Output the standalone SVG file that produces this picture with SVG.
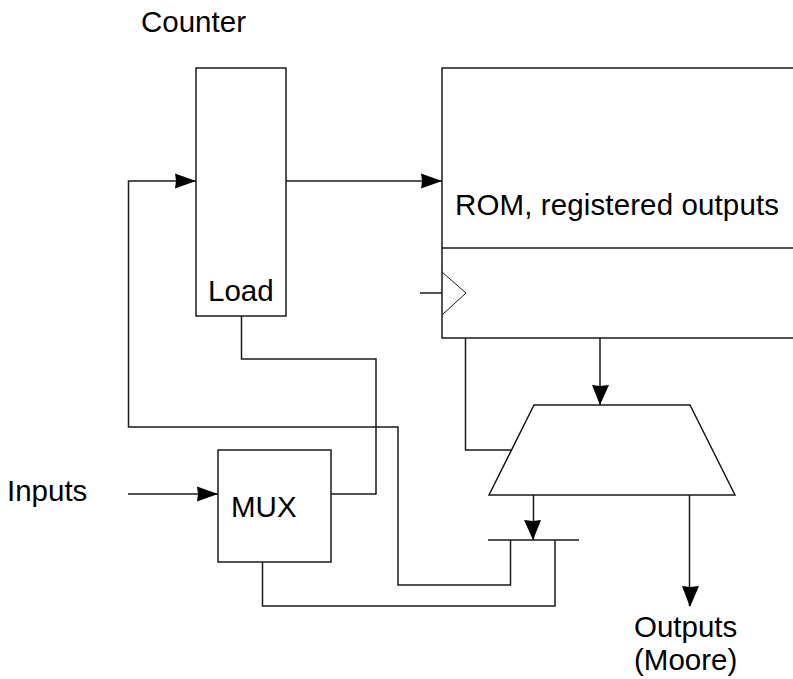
<svg xmlns="http://www.w3.org/2000/svg" width="793" height="679" viewBox="0 0 793 679">
<defs>
<style>
.s{fill:none;stroke:#1a1a1a;stroke-width:1.5}
.b{fill:#fff;stroke:#1a1a1a;stroke-width:1.5}
.t{font-family:"Liberation Sans",Arial,sans-serif;font-size:29.500px;fill:#000}
.h{fill:#000;stroke:none}
</style>
</defs>
<rect width="793" height="679" fill="#fff"/>
<g id="connectors">
<path class="s" d="M196 181H128.500V427H398V585H510.500V540"/>
<path class="s" d="M286 181H442"/>
<path class="s" d="M241.500 316V359H376V494H331"/>
<path class="s" d="M128 494H218"/>
<path class="s" d="M262.500 562V606H555V540"/>
<path class="s" d="M465.500 338V450H511"/>
<path class="s" d="M600 338V405"/>
<path class="s" d="M533.500 495V540"/>
<path class="s" d="M689.500 495V606"/>
<path class="s" d="M420 293H442"/>
<path class="s" d="M488 540H579"/>
<path class="h" d="M196 181L175 173.500L176 181L175 188.500Z"/>
<path class="h" d="M442 181L421 173.500L422 181L421 188.500Z"/>
<path class="h" d="M218 494L197 486.500L198 494L197 501.500Z"/>
<path class="h" d="M600 405L592 385L600 386L609 385Z"/>
<path class="h" d="M533 540L524 520L533 521L541 520Z"/>
<path class="h" d="M690 607L682 586L690 587L699 586Z"/>
</g>
<g id="counter"><rect class="b" x="196" y="68" width="90" height="248"/><text class="t" x="208" y="301">Load</text></g>
<text id="counter-label" class="t" x="141" y="32">Counter</text>
<g id="rom">
<path class="s" d="M793 68H442V338H793"/>
<path class="s" d="M442 248H793"/>
<path d="M442 272L466 293L442 315" fill="none" stroke="#1a1a1a" stroke-width="1"/>
<text class="t" x="455" y="215" textLength="324">ROM, registered outputs</text>
</g>
<g id="mux-shape"><path class="b" d="M534 405H690L735 495H489Z"/></g>
<g id="mux"><rect class="b" x="218" y="450" width="113" height="112"/><text class="t" x="231" y="517">MUX</text></g>
<text id="inputs-label" class="t" x="7" y="501">Inputs</text>
<g id="outputs-label"><text class="t" x="634" y="637">Outputs</text><text class="t" x="634" y="670">(Moore)</text></g>
</svg>
